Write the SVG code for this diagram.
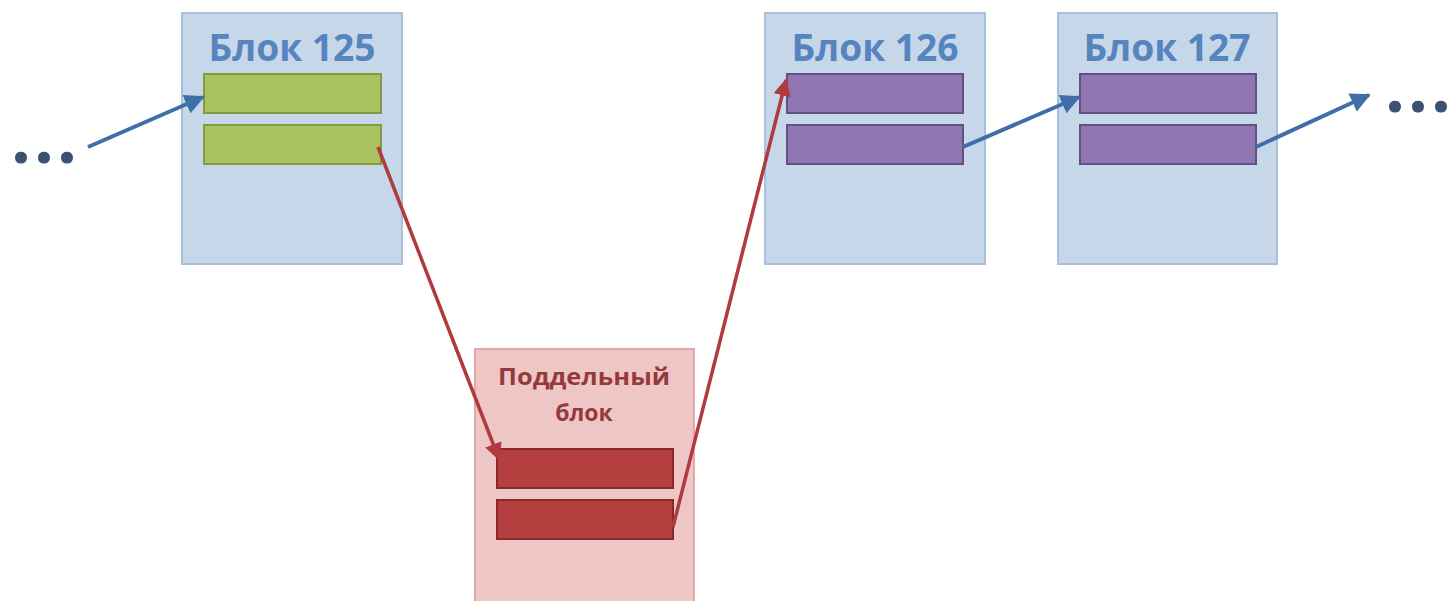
<svg xmlns="http://www.w3.org/2000/svg" width="1455" height="601" viewBox="0 0 1455 601">
<style>
.blk{fill:#c6d7ea;stroke:#a9bfda;stroke-width:2}
.fake{fill:#efc6c6;stroke:#e3a7a7;stroke-width:2}
.title{font-family:"Open Sans",sans-serif;font-weight:bold;font-size:38px;fill:#5684be;text-anchor:middle}
.ftitle{font-family:"Open Sans",sans-serif;font-weight:bold;font-size:23px;fill:#953a3c;text-anchor:middle}
.g{fill:#a9c361;stroke:#809b40;stroke-width:2}
.p{fill:#9075b3;stroke:#62507f;stroke-width:2}
.r{fill:#b3403f;stroke:#8a2828;stroke-width:2}
.dots{font-family:"Open Sans",sans-serif;font-weight:bold;font-size:70px;fill:#3b5273}
.ab{stroke:#3f6fa6;stroke-width:4;fill:none}
.ar{stroke:#b03a3e;stroke-width:3.5;fill:none}
</style>
<defs>
<marker id="mb" viewBox="0 0 10 10" refX="9" refY="5" markerWidth="5" markerHeight="5" orient="auto" markerUnits="strokeWidth"><path d="M0,0 L10,5 L0,10 z" fill="#3f6fa6"/></marker>
<marker id="mr" viewBox="0 0 10 10" refX="9" refY="5" markerWidth="5" markerHeight="5" orient="auto" markerUnits="strokeWidth"><path d="M0,0 L10,5 L0,10 z" fill="#b03a3e"/></marker>
</defs>
<rect width="1455" height="601" fill="#ffffff"/>
<g id="dots-left"><text class="dots" x="11" y="163" textLength="66" lengthAdjust="spacing">...</text></g>
<g id="block125">
<rect class="blk" x="182" y="13" width="220" height="251"/>
<text class="title" x="292" y="61" textLength="167" lengthAdjust="spacingAndGlyphs">Блок 125</text>
<rect class="g" x="204" y="74" width="177" height="39"/>
<rect class="g" x="204" y="125" width="177" height="39"/>
</g>
<g id="block126">
<rect class="blk" x="765" y="13" width="220" height="251"/>
<text class="title" x="875" y="61" textLength="167" lengthAdjust="spacingAndGlyphs">Блок 126</text>
<rect class="p" x="787" y="74" width="176" height="39"/>
<rect class="p" x="787" y="125" width="176" height="39"/>
</g>
<g id="block127">
<rect class="blk" x="1058" y="13" width="219" height="251"/>
<text class="title" x="1167" y="61" textLength="167" lengthAdjust="spacingAndGlyphs">Блок 127</text>
<rect class="p" x="1080" y="74" width="176" height="39"/>
<rect class="p" x="1080" y="125" width="176" height="39"/>
</g>
<g id="fake-block">
<rect class="fake" x="475" y="349" width="219" height="260"/>
<text class="ftitle" x="584" y="385" textLength="172" lengthAdjust="spacingAndGlyphs">Поддельный</text>
<text class="ftitle" x="584" y="421">блок</text>
<rect class="r" x="497" y="449" width="176" height="39"/>
<rect class="r" x="497" y="500" width="176" height="39"/>
</g>
<g id="dots-right"><text class="dots" x="1385" y="112" textLength="66" lengthAdjust="spacing">...</text></g>
<g id="connectors">
<line class="ab" x1="88" y1="147" x2="203" y2="97" marker-end="url(#mb)"/>
<line class="ar" x1="378" y1="147" x2="499" y2="459" marker-end="url(#mr)"/>
<line class="ar" x1="673" y1="527" x2="786" y2="80" marker-end="url(#mr)"/>
<line class="ab" x1="963" y1="147" x2="1079" y2="97" marker-end="url(#mb)"/>
<line class="ab" x1="1256" y1="147" x2="1369" y2="95" marker-end="url(#mb)"/>
</g>
</svg>
